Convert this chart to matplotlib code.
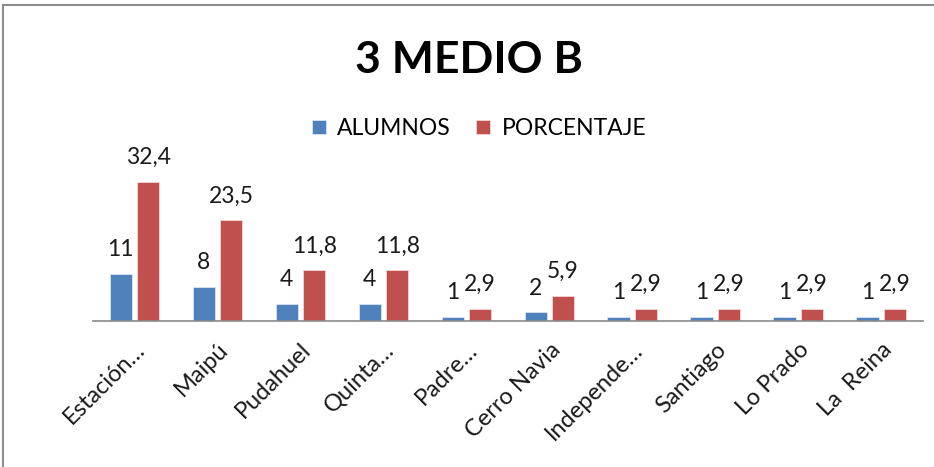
import numpy as np
import matplotlib.pyplot as plt
from matplotlib.patches import Rectangle

comunas = ["Estación…", "Maipú", "Pudahuel", "Quinta…", "Padre…",
           "Cerro Navia", "Independe…", "Santiago", "Lo Prado", "La  Reina"]
alumnos = [11, 8, 4, 4, 1, 2, 1, 1, 1, 1]
porcentaje = [32.4, 23.5, 11.8, 11.8, 2.9, 5.9, 2.9, 2.9, 2.9, 2.9]

def fmt(v):
    return ("%g" % v).replace(".", ",")

def main():
    plt.rcParams['font.family'] = ['Lato', 'DejaVu Sans']
    fig = plt.figure(figsize=(9.34, 4.67), dpi=100)
    fig.patches.append(Rectangle((0.0035, -0.05), 1.1, 1.04, transform=fig.transFigure,
                                 fill=False, edgecolor='#8c8c8c', linewidth=1.5))
    ax = fig.add_axes([0.0996, 0.3126, 0.8884, 0.3874])

    x = np.arange(len(comunas))
    w = 0.27
    b1 = ax.bar(x - 0.165, alumnos, w, color='#4F81BD', edgecolor='#dbe4f0',
                linewidth=0.6, label='ALUMNOS')
    b2 = ax.bar(x + 0.165, porcentaje, w, color='#C0504D', edgecolor='#f0d6d5',
                linewidth=0.6, label='PORCENTAJE')

    for bars, vals in ((b1, alumnos), (b2, porcentaje)):
        for r, v in zip(bars, vals):
            ax.annotate(fmt(v), (r.get_x() + r.get_width() / 2, r.get_height()),
                        xytext=(0, 10), textcoords='offset points',
                        ha='center', va='bottom', fontsize=16.5, color='#1a1a1a')

    ax.set_xlim(-0.5, len(comunas) - 0.5)
    ax.set_ylim(0, 42.2)
    ax.set_yticks([])
    for s in ('top', 'right', 'left'):
        ax.spines[s].set_visible(False)
    ax.spines['bottom'].set_color('#8a8a8a')
    ax.spines['bottom'].set_linewidth(1.2)
    ax.set_xticks(x)
    ax.set_xticklabels(comunas, rotation=45, ha='right', rotation_mode='anchor',
                       fontsize=17, color='#1a1a1a')
    ax.tick_params(axis='x', length=0, pad=13)

    fig.text(0.502, 0.872, "3 MEDIO B", ha='center', va='center',
             fontsize=32, fontweight='bold', color='black')
    fig.legend(loc='center', bbox_to_anchor=(0.513, 0.725), ncol=2, frameon=False,
               fontsize=16.5, handlelength=0.6, handleheight=0.6, columnspacing=1.1,
               handletextpad=0.5)

    fig.savefig("out.png", dpi=100)

if __name__ == "__main__":
    main()
